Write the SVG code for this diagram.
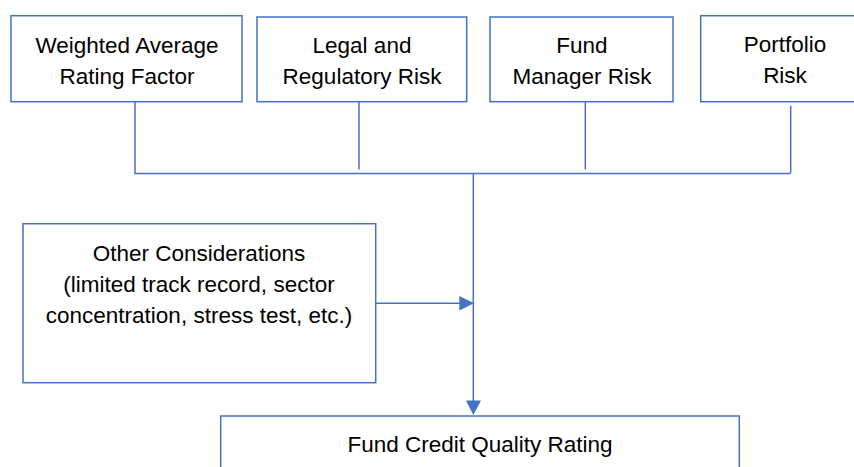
<svg xmlns="http://www.w3.org/2000/svg" width="854" height="467" viewBox="0 0 854 467">
<defs>
<style>
.box{fill:#ffffff;stroke:#4472C4;stroke-width:1.5}
.ln{fill:none;stroke:#4472C4;stroke-width:1.5}
.t{font-family:"Liberation Sans",Arial,sans-serif;font-size:22.5px;fill:#000;text-anchor:middle}
</style>
</defs>
<rect width="854" height="467" fill="#ffffff"/>
<g id="connectors">
<path class="ln" d="M135,102 V173.5 H790.7"/>
<path class="ln" d="M359,102 V169.5"/>
<path class="ln" d="M585.3,102 V169.5"/>
<path class="ln" d="M790.7,105.7 V173"/>
<path class="ln" d="M473.3,173 V401"/>
<path d="M466,400.5 L481,400.5 L473.3,415 Z" fill="#4472C4"/>
<path class="ln" d="M375.7,303.3 H460"/>
<path d="M459.3,296 L459.3,310.5 L474,303.3 Z" fill="#4472C4"/>
</g>
<g id="n1">
<rect class="box" x="11" y="15.7" width="231" height="86"/>
<text class="t" x="127" y="52.5">Weighted Average</text>
<text class="t" x="127" y="83.5">Rating Factor</text>
</g>
<g id="n2">
<rect class="box" x="257" y="17" width="209.7" height="84.7"/>
<text class="t" x="362" y="53">Legal and</text>
<text class="t" x="362" y="84">Regulatory Risk</text>
</g>
<g id="n3">
<rect class="box" x="490" y="17" width="183" height="84.7"/>
<text class="t" x="582" y="53">Fund</text>
<text class="t" x="582" y="84">Manager Risk</text>
</g>
<g id="n4">
<rect class="box" x="700.7" y="15.7" width="170" height="86"/>
<text class="t" x="785" y="52">Portfolio</text>
<text class="t" x="785" y="83">Risk</text>
</g>
<g id="n5">
<rect class="box" x="23" y="223.7" width="352.7" height="159"/>
<text class="t" x="199" y="260.7">Other Considerations</text>
<text class="t" x="199" y="291.7">(limited track record, sector</text>
<text class="t" x="199" y="323">concentration, stress test, etc.)</text>
</g>
<g id="n6">
<rect class="box" x="220.7" y="416" width="518.6" height="60"/>
<text class="t" x="480" y="451.7">Fund Credit Quality Rating</text>
</g>
</svg>
